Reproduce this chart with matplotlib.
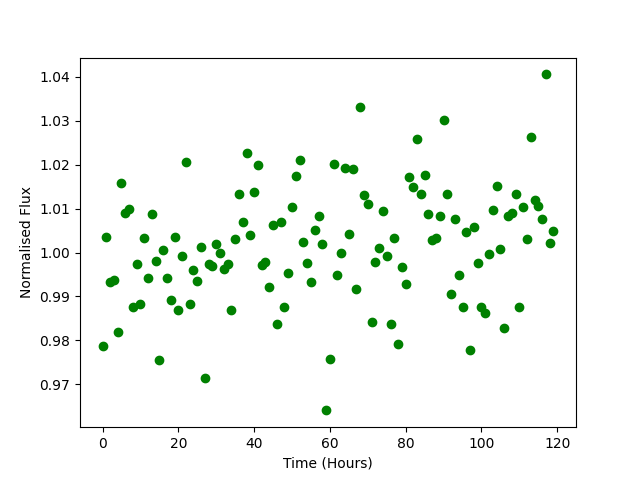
import matplotlib
matplotlib.use('Agg')
import matplotlib.pyplot as plt

# hourly samples
time_hours = list(range(120))

flux = [
    0.9787, 1.0036, 0.9932, 0.9938, 0.9819, 1.0157, 1.0089, 1.0100, 0.9875, 0.9973,
    0.9884, 1.0034, 0.9943, 1.0088, 0.9981, 0.9755, 1.0006, 0.9941, 0.9891, 1.0036,
    0.9870, 0.9993, 1.0205, 0.9884, 0.9961, 0.9936, 1.0012, 0.9714, 0.9973, 0.9970,
    1.0020, 1.0000, 0.9962, 0.9974, 0.9870, 1.0030, 1.0134, 1.0070, 1.0227, 1.0039,
    1.0138, 1.0200, 0.9971, 0.9979, 0.9922, 1.0063, 0.9837, 1.0069, 0.9875, 0.9953,
    1.0103, 1.0175, 1.0211, 1.0025, 0.9977, 0.9934, 1.0052, 1.0082, 1.0019, 0.9641,
    0.9757, 1.0202, 0.9948, 0.9998, 1.0192, 1.0041, 1.0190, 0.9916, 1.0332, 1.0131,
    1.0110, 0.9842, 0.9979, 1.0010, 1.0095, 0.9993, 0.9837, 1.0033, 0.9792, 0.9968,
    0.9929, 1.0172, 1.0150, 1.0259, 1.0133, 1.0177, 1.0087, 1.0028, 1.0032, 1.0082,
    1.0301, 1.0132, 0.9906, 1.0077, 0.9949, 0.9875, 1.0047, 0.9778, 1.0058, 0.9977,
    0.9877, 0.9862, 0.9997, 1.0097, 1.0152, 1.0007, 0.9828, 1.0084, 1.0090, 1.0134,
    0.9876, 1.0103, 1.0031, 1.0263, 1.0119, 1.0105, 1.0077, 1.0405, 1.0021, 1.0050,
]

fig, ax = plt.subplots(figsize=(6.4, 4.8), dpi=100)
ax.plot(time_hours, flux, 'o', color='green')
ax.set_xlabel('Time (Hours)')
ax.set_ylabel('Normalised Flux')

plt.savefig('out.png', dpi=100)
plt.close()
